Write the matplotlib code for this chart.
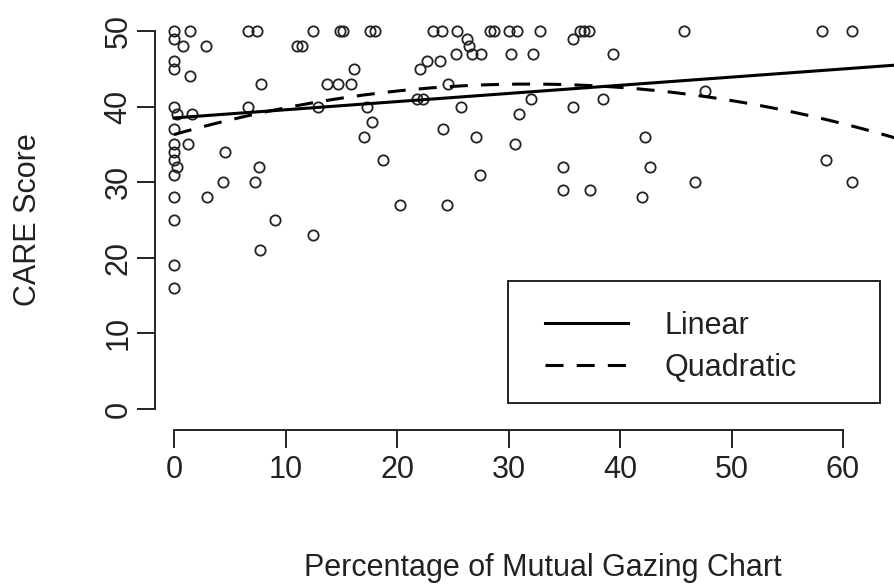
import matplotlib
matplotlib.use("Agg")
import matplotlib.pyplot as plt
from matplotlib.patches import Rectangle
import numpy as np


# percentage of mutual gazing (x) and CARE score (y)
gaze_pct = [
    0.0, 0.0, 1.4, 0.8, 2.9, 0.0, 0.0, 1.4, 0.0, 0.3, 1.6, 0.0, 0.0, 1.3,
    0.0, 0.0, 0.3, 0.0, 0.0, 0.0, 0.0, 0.0,
    4.6, 4.4, 3.0, 6.6, 7.4, 11.0, 7.8, 6.6, 7.6, 7.3, 9.1, 7.7,
    12.5, 14.9, 15.2, 17.6, 18.0, 23.2, 24.0, 25.4, 28.3, 28.7, 30.0, 30.8,
    32.8, 36.4, 36.8, 37.2, 45.7, 58.1, 60.8,
    11.5, 16.1, 22.7, 23.9, 22.1, 13.7, 14.7, 15.9, 12.9, 17.3, 21.8, 22.3,
    17.8, 24.1, 17.0, 18.7, 20.3, 24.5, 12.5,
    25.3, 26.3, 26.5, 26.7, 27.5, 30.2, 32.2, 35.8, 39.4, 24.6, 25.7, 32.0,
    35.8, 38.5, 30.9, 27.1, 30.6, 27.4, 34.9, 34.9, 37.3,
    47.6, 42.2, 42.7, 42.0, 46.7, 58.5, 60.8,
]
care_score = [
    50, 49, 50, 48, 48, 46, 45, 44, 40, 39, 39, 37, 35, 35,
    34, 33, 32, 31, 28, 25, 19, 16,
    34, 30, 28, 50, 50, 48, 43, 40, 32, 30, 25, 21,
    50, 50, 50, 50, 50, 50, 50, 50, 50, 50, 50, 50,
    50, 50, 50, 50, 50, 50, 50,
    48, 45, 46, 46, 45, 43, 43, 43, 40, 40, 41, 41,
    38, 37, 36, 33, 27, 27, 23,
    47, 49, 48, 47, 47, 47, 47, 49, 47, 43, 40, 41,
    40, 41, 39, 36, 35, 31, 32, 29, 29,
    42, 36, 32, 28, 30, 33, 30,
]

# fitted curves as drawn in the chart
linear_coef = [38.5, 0.108]               # a + b*x
quadratic_coef = [36.3, 0.42, -0.0066]    # a + b*x + c*x^2

x_ticks = [0, 10, 20, 30, 40, 50, 60]
y_ticks = [0, 10, 20, 30, 40, 50]

INK = "#222222"
FONT = "Liberation Sans"
FS = 22

plt.rcParams["font.family"] = [FONT, "DejaVu Sans"]

W, H = 894, 588
fig = plt.figure(figsize=(W / 100, H / 100), dpi=100)
ax = fig.add_axes([155 / W, (H - 430) / H, 1 - 155 / W, (430 - 15) / H])

ax.set_xlim((155 - 174) / 11.15, (W - 174) / 11.15)
ax.set_ylim((409 - 430) / 7.56, (409 - 15) / 7.56)

ax.plot(
    gaze_pct, care_score,
    linestyle="none", marker="o", markersize=7.4,
    markerfacecolor="none", markeredgecolor=INK, markeredgewidth=1.3,
    clip_on=False, zorder=3,
)

xs = np.linspace(0, 66, 300)
lin = linear_coef[0] + linear_coef[1] * xs
quad = quadratic_coef[0] + quadratic_coef[1] * xs + quadratic_coef[2] * xs ** 2

ax.plot(xs, lin, color="black", linewidth=2.2, label="Linear", zorder=4)
ax.plot(xs, quad, color="black", linewidth=2.2, dashes=(5.9, 4.3),
        label="Quadratic", zorder=4)

for side in ["top", "right"]:
    ax.spines[side].set_visible(False)
for side in ["left", "bottom"]:
    ax.spines[side].set_linewidth(1.4)
    ax.spines[side].set_color(INK)
ax.spines["left"].set_bounds(0, 50)
ax.spines["bottom"].set_bounds(0, 60)

ax.set_xticks(x_ticks)
ax.set_yticks(y_ticks)
ax.tick_params(length=13, width=1.4, color=INK, labelsize=FS,
               labelcolor=INK, pad=5)
ax.tick_params(axis="y", labelrotation=90, pad=2.5)
for lab in ax.get_yticklabels():
    lab.set_va("center")

fig.text(543 / W, 1 - 568 / H, "Percentage of Mutual Gazing Chart",
         ha="center", va="center", fontsize=FS, color=INK)
fig.text(28 / W, 1 - 220 / H, "CARE Score", rotation=90,
         ha="center", va="center", fontsize=FS, color=INK)

# legend box as drawn by R: frame is a separate rectangle
ax.add_patch(Rectangle(
    (508 / W, 1 - 403 / H), 372 / W, 122 / H,
    transform=fig.transFigure, facecolor="white", edgecolor=INK,
    linewidth=1.4, zorder=5, clip_on=False,
))
leg = ax.legend(
    loc="upper left",
    bbox_to_anchor=(545 / W, 1 - 311 / H),
    bbox_transform=fig.transFigure,
    fontsize=FS,
    frameon=False,
    handlelength=2.7, handletextpad=1.2, labelspacing=0.38,
    borderpad=0, borderaxespad=0,
)
leg.set_zorder(6)
for t in leg.get_texts():
    t.set_color(INK)

fig.savefig("out.png", dpi=100)
